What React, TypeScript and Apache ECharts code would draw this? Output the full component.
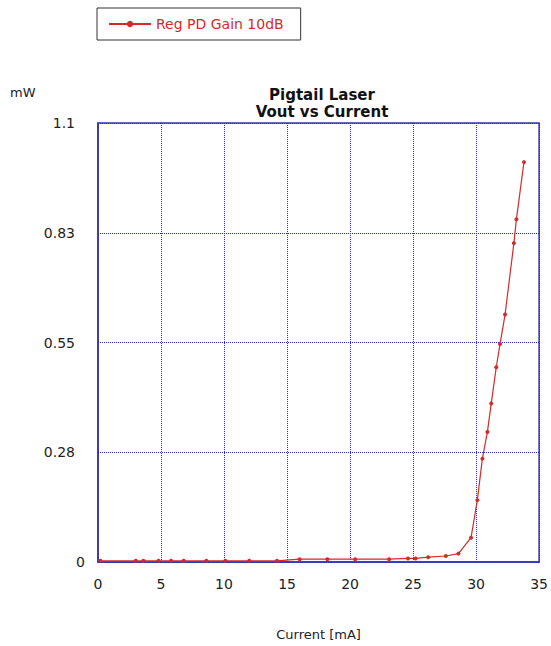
import React, { useEffect, useRef } from "react";
import * as echarts from "echarts";

const seriesName = "Reg PD Gain 10dB";
const currentMA = [0.2, 3.0, 3.6, 4.8, 5.8, 6.8, 8.6, 10.1, 12.0, 14.2, 16.0, 18.2, 20.4, 23.1, 24.6, 25.2, 26.2, 27.6, 28.6, 29.6, 30.1, 30.5, 30.9, 31.2, 31.6, 31.9, 32.3, 33.0, 33.2, 33.8];
const powerMW = [0.003, 0.003, 0.003, 0.003, 0.003, 0.003, 0.003, 0.003, 0.003, 0.003, 0.007, 0.007, 0.007, 0.007, 0.009, 0.009, 0.012, 0.015, 0.021, 0.061, 0.155, 0.259, 0.326, 0.397, 0.488, 0.546, 0.62, 0.799, 0.859, 1.002];
const yTickLabels = ["0", "0.28", "0.55", "0.83", "1.1"];
const xTickStep = 5;
const yTickStep = 0.275;

const RED = "#d42a2a";
const BLUE = "#2a2ac8";
const FRAME = "#3434b0";
const FONT = "DejaVu Sans, Verdana, sans-serif";

export default function App() {
  const ref = useRef<HTMLDivElement>(null);
  useEffect(() => {
    if (!ref.current) return;
    const chart = echarts.init(ref.current, undefined, { renderer: "svg" });
    chart.setOption({
      animation: false,
      backgroundColor: "#ffffff",
      title: {
        text: "Pigtail Laser\nVout vs Current",
        left: 317,
        top: 81,
        textAlign: "center",
        textStyle: { fontFamily: FONT, fontSize: 15, fontWeight: "bold", color: "#111", lineHeight: 17 },
      },
      legend: {
        left: 97,
        top: 8,
        borderColor: "#333",
        borderWidth: 1,
        borderRadius: 0,
        padding: [9, 17, 9, 11],
        itemWidth: 42,
        itemHeight: 8,
        itemGap: 6,
        textStyle: { fontFamily: FONT, fontSize: 14, color: RED },
        data: [seriesName],
      },
      graphic: [
        {
          type: "text",
          left: 10,
          top: 86,
          style: { text: "mW", fontFamily: FONT, fontSize: 13, fill: "#222" },
        },
      ],
      grid: {
        left: 98,
        right: 6,
        top: 123,
        bottom: 78,
        show: true,
        borderColor: FRAME,
        borderWidth: 1.5,
        containLabel: false,
      },
      xAxis: {
        type: "value",
        min: 0,
        max: 35,
        interval: xTickStep,
        name: "Current [mA]",
        nameLocation: "middle",
        nameGap: 66,
        nameTextStyle: { fontFamily: FONT, fontSize: 13, color: "#222" },
        axisLine: { show: true, lineStyle: { color: FRAME, width: 1.5 } },
        axisTick: { show: false },
        axisLabel: { fontFamily: FONT, fontSize: 14, color: "#222", margin: 15 },
        splitLine: { show: true, lineStyle: { color: BLUE, type: [1, 1], width: 1 } },
      },
      yAxis: {
        type: "value",
        min: 0,
        max: 1.1,
        interval: yTickStep,
        axisLine: { show: true, lineStyle: { color: FRAME, width: 1.5 } },
        axisTick: { show: false },
        axisLabel: {
          fontFamily: FONT,
          fontSize: 14,
          color: "#222",
          margin: 23,
          formatter: (v: number) => {
            const i = Math.round(v / yTickStep);
            const t = yTickLabels[i] ?? "";
            return i === 0 ? "{z|" + t + "}" : t;
          },
          rich: { z: { fontFamily: FONT, fontSize: 14, color: "#222", padding: [0, -10, 0, 0] } },
        },
        splitLine: { show: true, lineStyle: { color: BLUE, type: [1, 1], width: 1 } },
      },
      series: [
        {
          name: seriesName,
          type: "line",
          data: currentMA.map((x, i) => [x, powerMW[i]]),
          color: RED,
          lineStyle: { color: RED, width: 1.2 },
          symbol: "circle",
          symbolSize: 4,
          showSymbol: true,
          itemStyle: { color: RED },
        },
      ],
    });
    return () => chart.dispose();
  }, []);
  return <div ref={ref} style={{ position: "fixed", left: 0, top: 0, width: 551, height: 646 }} />;
}
